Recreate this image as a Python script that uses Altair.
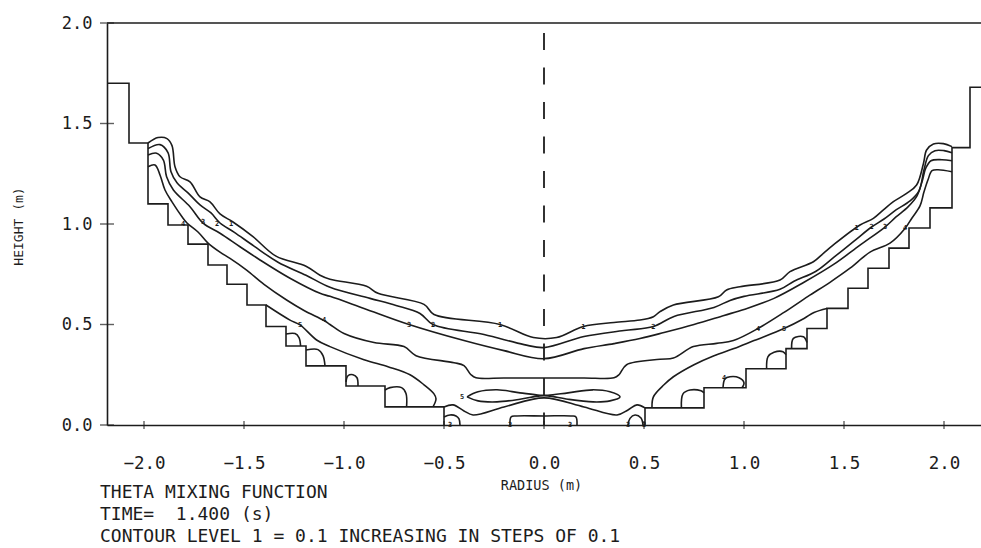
import altair as alt
import pandas as pd

# ---------------- axes ----------------
X_TICKS = [-2.0, -1.5, -1.0, -0.5, 0.0, 0.5, 1.0, 1.5, 2.0]
Y_TICKS = [0.0, 0.5, 1.0, 1.5, 2.0]
X_DOMAIN = [-2.185, 2.185]
Y_DOMAIN = [0.0, 2.0]
X_TITLE = "RADIUS (m)"
Y_TITLE = "HEIGHT (m)"
NOTES = ["THETA MIXING FUNCTION",
         "TIME=\u00a0 1.400 (s)",
         "CONTOUR LEVEL 1 = 0.1 INCREASING IN STEPS OF 0.1"]

# ---------------- stepped vessel wall ----------------
WALL_LEFT = [(-2.185, 1.70), (-2.075, 1.70), (-2.075, 1.403), (-1.98, 1.403), (-1.98, 1.10),
             (-1.88, 1.10), (-1.88, 0.995), (-1.78, 0.995), (-1.78, 0.90), (-1.68, 0.90),
             (-1.68, 0.796), (-1.585, 0.796), (-1.585, 0.70), (-1.485, 0.70), (-1.485, 0.597),
             (-1.39, 0.597), (-1.39, 0.49), (-1.29, 0.49), (-1.29, 0.393), (-1.19, 0.393),
             (-1.19, 0.294), (-0.99, 0.294), (-0.99, 0.194), (-0.795, 0.194), (-0.795, 0.09),
             (-0.50, 0.09), (-0.50, 0.0)]
WALL_RIGHT = [(0.505, 0.0), (0.505, 0.085), (0.80, 0.085), (0.80, 0.185), (1.01, 0.185),
              (1.01, 0.28), (1.21, 0.28), (1.21, 0.38), (1.315, 0.38), (1.315, 0.48),
              (1.415, 0.48), (1.415, 0.58), (1.52, 0.58), (1.52, 0.68), (1.62, 0.68),
              (1.62, 0.78), (1.725, 0.78), (1.725, 0.88), (1.825, 0.88), (1.825, 0.98),
              (1.93, 0.98), (1.93, 1.08), (2.04, 1.08), (2.04, 1.38), (2.13, 1.38),
              (2.13, 1.68), (2.185, 1.68)]

# ---------------- contour lines ----------------
C1 = [(-1.98, 1.403), (-1.93, 1.43), (-1.885, 1.425), (-1.86, 1.39), (-1.845, 1.285), (-1.82, 1.235),
      (-1.77, 1.21), (-1.72, 1.135), (-1.67, 1.11), (-1.62, 1.05), (-1.555, 1.01), (-1.455, 0.937),
      (-1.34, 0.84), (-1.19, 0.79), (-1.12, 0.745), (-1.07, 0.725), (-0.887, 0.69), (-0.83, 0.655),
      (-0.60, 0.60), (-0.55, 0.55), (-0.22, 0.50), (-0.053, 0.435), (0.063, 0.435), (0.197, 0.49),
      (0.35, 0.51), (0.48, 0.522), (0.547, 0.539), (0.58, 0.564), (0.647, 0.597), (0.872, 0.638),
      (0.913, 0.672), (0.98, 0.688), (1.18, 0.721), (1.23, 0.763), (1.347, 0.812), (1.397, 0.854),
      (1.447, 0.896), (1.58, 0.995), (1.647, 1.028), (1.697, 1.07), (1.747, 1.111), (1.813, 1.152),
      (1.863, 1.194), (1.897, 1.30), (1.913, 1.368), (1.947, 1.398), (1.997, 1.40), (2.04, 1.385)]
C2 = [(-1.98, 1.375), (-1.92, 1.395), (-1.88, 1.355), (-1.865, 1.26), (-1.835, 1.205), (-1.78, 1.155),
      (-1.72, 1.095), (-1.665, 1.055), (-1.62, 1.005), (-1.55, 0.96), (-1.45, 0.89), (-1.33, 0.81),
      (-1.19, 0.745), (-1.07, 0.685), (-0.87, 0.63), (-0.74, 0.595), (-0.62, 0.555), (-0.555, 0.50),
      (-0.30, 0.45), (-0.10, 0.40), (0.0, 0.385), (0.20, 0.44), (0.40, 0.47), (0.547, 0.49),
      (0.65, 0.54), (0.85, 0.585), (0.93, 0.62), (1.0, 0.64), (1.18, 0.675), (1.25, 0.715),
      (1.36, 0.765), (1.45, 0.835), (1.55, 0.915), (1.638, 0.985), (1.70, 1.025), (1.76, 1.07),
      (1.83, 1.115), (1.875, 1.165), (1.90, 1.27), (1.922, 1.34), (1.955, 1.365), (2.0, 1.365),
      (2.04, 1.355)]
C3 = [(-1.98, 1.343), (-1.937, 1.352), (-1.903, 1.318), (-1.887, 1.235), (-1.853, 1.169), (-1.77, 1.086),
      (-1.703, 1.003), (-1.62, 0.954), (-1.52, 0.887), (-1.42, 0.821), (-1.27, 0.73), (-1.12, 0.655),
      (-1.07, 0.64), (-0.90, 0.58), (-0.675, 0.50), (-0.40, 0.42), (-0.20, 0.37), (0.0, 0.33),
      (0.20, 0.38), (0.35, 0.405), (0.48, 0.43), (0.60, 0.46), (0.75, 0.50), (0.90, 0.545),
      (1.0, 0.575), (1.15, 0.63), (1.30, 0.71), (1.45, 0.80), (1.58, 0.895), (1.705, 0.985),
      (1.76, 1.035), (1.82, 1.085), (1.865, 1.14), (1.89, 1.21), (1.91, 1.28), (1.935, 1.315),
      (1.99, 1.32), (2.04, 1.315)]
C4 = [(-1.98, 1.285), (-1.945, 1.294), (-1.92, 1.244), (-1.895, 1.169), (-1.86, 1.11), (-1.81, 1.036),
      (-1.785, 1.005), (-1.73, 0.96), (-1.68, 0.905), (-1.62, 0.86), (-1.57, 0.829), (-1.487, 0.771),
      (-1.40, 0.70), (-1.287, 0.622), (-1.20, 0.57), (-1.10, 0.52), (-1.07, 0.50), (-1.0, 0.455),
      (-0.85, 0.41), (-0.70, 0.39), (-0.64, 0.345), (-0.45, 0.31), (-0.40, 0.295), (-0.365, 0.25),
      (-0.34, 0.235), (-0.20, 0.234), (0.0, 0.234), (0.20, 0.234), (0.35, 0.235), (0.375, 0.25),
      (0.413, 0.30), (0.58, 0.327), (0.647, 0.333), (0.747, 0.39), (0.863, 0.406),
      (0.947, 0.42), (1.07, 0.48), (1.20, 0.56), (1.32, 0.64), (1.43, 0.71), (1.53, 0.78),
      (1.63, 0.86), (1.73, 0.905), (1.805, 0.978), (1.84, 1.03), (1.88, 1.09), (1.90, 1.16),
      (1.92, 1.22), (1.94, 1.265), (1.97, 1.27), (2.04, 1.26)]
C5_LEFT = [(-1.39, 0.597), (-1.27, 0.522), (-1.22, 0.498), (-1.137, 0.423), (-1.07, 0.39), (-0.90, 0.325),
           (-0.78, 0.29), (-0.67, 0.25), (-0.60, 0.20), (-0.55, 0.155), (-0.54, 0.13), (-0.555, 0.09)]
C5_RIGHT = [(0.54, 0.085), (0.547, 0.14), (0.60, 0.20), (0.647, 0.24), (0.75, 0.30), (0.85, 0.345),
            (0.95, 0.38), (1.05, 0.42), (1.20, 0.48), (1.30, 0.53), (1.35, 0.56), (1.415, 0.58)]
C_LOW = [(-0.50, 0.09), (-0.455, 0.10), (-0.40, 0.07), (-0.355, 0.05), (-0.20, 0.09), (0.0, 0.135),
         (0.20, 0.09), (0.365, 0.05), (0.42, 0.075), (0.465, 0.10), (0.505, 0.085)]
ISLAND = [(-0.385, 0.14), (-0.33, 0.165), (-0.235, 0.175), (-0.12, 0.16), (-0.02, 0.148), (0.02, 0.148),
          (0.12, 0.16), (0.245, 0.175), (0.33, 0.165), (0.38, 0.14), (0.33, 0.12), (0.245, 0.115),
          (0.12, 0.128), (0.02, 0.145), (-0.02, 0.145), (-0.12, 0.128), (-0.235, 0.115), (-0.33, 0.12),
          (-0.385, 0.14)]
LOOP_L1 = [(-1.29, 0.453), (-1.245, 0.455), (-1.225, 0.435), (-1.217, 0.393)]
LOOP_L2 = [(-1.19, 0.373), (-1.13, 0.375), (-1.105, 0.345), (-1.095, 0.294)]
LOOP_L3 = [(-0.99, 0.215), (-0.98, 0.245), (-0.955, 0.25), (-0.935, 0.235), (-0.93, 0.194)]
LOOP_L4 = [(-0.795, 0.174), (-0.77, 0.186), (-0.712, 0.186), (-0.69, 0.157), (-0.687, 0.09)]
LOOP_R1 = [(1.238, 0.38), (1.247, 0.431), (1.297, 0.439), (1.315, 0.41)]
LOOP_R2 = [(1.113, 0.28), (1.12, 0.34), (1.15, 0.362), (1.195, 0.365), (1.21, 0.35)]
LOOP_R3 = [(0.895, 0.185), (0.905, 0.23), (0.93, 0.24), (0.975, 0.235), (1.0, 0.21), (0.99, 0.185)]
LOOP_R4 = [(0.687, 0.085), (0.695, 0.155), (0.73, 0.174), (0.785, 0.17), (0.80, 0.16)]
BUMP_L = [(-0.50, 0.04), (-0.47, 0.05), (-0.44, 0.045), (-0.425, 0.03), (-0.42, 0.0)]
BUMP_M = [(-0.17, 0.0), (-0.165, 0.04), (-0.14, 0.045), (0.0, 0.045), (0.14, 0.045), (0.16, 0.04),
          (0.165, 0.0)]
BUMP_R = [(0.42, 0.0), (0.43, 0.033), (0.455, 0.05), (0.485, 0.035), (0.495, 0.0)]

# ---------------- contour level labels ----------------
LABEL_TEXT = ["4", "3", "2", "1", "3", "2", "1", "5", "4", "5",
              "1", "2", "4", "5", "4", "1", "2", "3", "4", "3", "3", "3", "3", "3"]
LABEL_X = [-1.805, -1.705, -1.635, -1.565, -0.675, -0.555, -0.22, -1.22, -1.10, -0.41,
           0.197, 0.547, 1.07, 1.20, 0.90, 1.563, 1.638, 1.705, 1.805, -0.47, -0.17, 0.13, 0.42, 0.50]
LABEL_Y = [1.0, 1.01, 1.0, 1.0, 0.50, 0.50, 0.50, 0.50, 0.52, 0.14,
           0.49, 0.49, 0.48, 0.48, 0.235, 0.98, 0.986, 0.986, 0.978, 0.0, 0.0, 0.0, 0.0, 0.0]

walls = {"wl": WALL_LEFT, "wr": WALL_RIGHT}
contours = {"c1": C1, "c2": C2, "c3": C3, "c4": C4, "c5l": C5_LEFT, "c5r": C5_RIGHT,
            "clow": C_LOW, "isl": ISLAND, "l1": LOOP_L1, "l2": LOOP_L2, "l3": LOOP_L3,
            "l4": LOOP_L4, "r1": LOOP_R1, "r2": LOOP_R2, "r3": LOOP_R3, "r4": LOOP_R4,
            "bl": BUMP_L, "bm": BUMP_M, "br": BUMP_R}


def to_df(series):
    rows = []
    for name, pts in series.items():
        for i, (x, y) in enumerate(pts):
            rows.append({"id": name, "o": i, "x": x, "y": y})
    return pd.DataFrame(rows)


wall_df = to_df(walls)
cont_df = to_df(contours)
label_df = pd.DataFrame({"x": LABEL_X, "y": LABEL_Y, "t": LABEL_TEXT})
xtick_df = pd.DataFrame({"x": X_TICKS, "y": [0.0] * len(X_TICKS)})
ytick_df = pd.DataFrame({"x": [X_DOMAIN[0]] * len(Y_TICKS), "y": Y_TICKS})
top_df = pd.DataFrame({"y": [Y_DOMAIN[1]]})
center_df = pd.DataFrame({"x": [0.0], "y": [1.95], "y2": [0.0]})

INK = "#1c1c1c"
MONO = "DejaVu Sans Mono"

x_axis = alt.Axis(values=X_TICKS, format=".1f", ticks=False, grid=False, domainColor=INK,
                  domainWidth=1.6, labelFont=MONO, labelFontSize=17.5, labelColor=INK,
                  labelPadding=29, labelFlush=False,
                  labelExpr="datum.value < 0 ? datum.label + '\u00a0' : datum.label",
                  title=X_TITLE, titleFont=MONO, titleFontSize=13.5, titleFontWeight="normal",
                  titleColor=INK, titleX=434, titleY=60, titleBaseline="middle")
y_axis = alt.Axis(values=Y_TICKS, format=".1f", ticks=False, grid=False, domainColor=INK,
                  domainWidth=1.6, labelFont=MONO, labelFontSize=17, labelColor=INK,
                  labelPadding=15, labelFlush=False,
                  title=Y_TITLE, titleFont=MONO, titleFontSize=13, titleFontWeight="normal",
                  titleColor=INK, titleAngle=270, titleX=-89, titleY=203,
                  titleAlign="center", titleBaseline="middle")


def X():
    return alt.X("x:Q", scale=alt.Scale(domain=X_DOMAIN, nice=False, zero=False), axis=x_axis)


def Y():
    return alt.Y("y:Q", scale=alt.Scale(domain=Y_DOMAIN, nice=False, zero=False), axis=y_axis)


wall_layer = alt.Chart(wall_df).mark_line(color=INK, strokeWidth=1.6, interpolate="linear").encode(
    x=X(), y=Y(), detail="id:N", order="o:Q")
cont_layer = alt.Chart(cont_df).mark_line(color=INK, strokeWidth=1.6, interpolate="catmull-rom").encode(
    x=X(), y=Y(), detail="id:N", order="o:Q")
label_layer = alt.Chart(label_df).mark_text(font=MONO, fontSize=7, fontWeight="bold", color=INK).encode(
    x=X(), y=Y(), text="t:N")
xtick_layer = alt.Chart(xtick_df).mark_tick(orient="vertical", size=8, thickness=1.4, color=INK).encode(
    x=X(), y=Y())
ytick_layer = alt.Chart(ytick_df).mark_tick(orient="horizontal", size=14, thickness=1.4, color=INK).encode(
    x=X(), y=Y())
top_layer = alt.Chart(top_df).mark_rule(color=INK, strokeWidth=1.6).encode(y=Y())
center_layer = alt.Chart(center_df).mark_rule(color=INK, strokeWidth=1.8, strokeDash=[17, 17.5]).encode(
    x=X(), y=Y(), y2="y2:Q")

note_layers = []
for i, line in enumerate(NOTES):
    note_layers.append(
        alt.Chart(pd.DataFrame({"t": [line]})).mark_text(
            font=MONO, fontSize=18, color=INK, align="left", baseline="alphabetic"
        ).encode(x=alt.value(-7), y=alt.value(475 + 22 * i), text="t:N")
    )

chart = alt.layer(wall_layer, cont_layer, center_layer, top_layer, xtick_layer, ytick_layer,
                  label_layer, *note_layers).properties(
    width=874, height=402,
    padding={"left": 107, "top": 23, "right": 0, "bottom": 123},
    autosize=alt.AutoSizeParams(type="none"),
    background="white",
).configure_view(stroke=None)

chart.save("out.html", embed_options={"renderer": "svg", "actions": False})
